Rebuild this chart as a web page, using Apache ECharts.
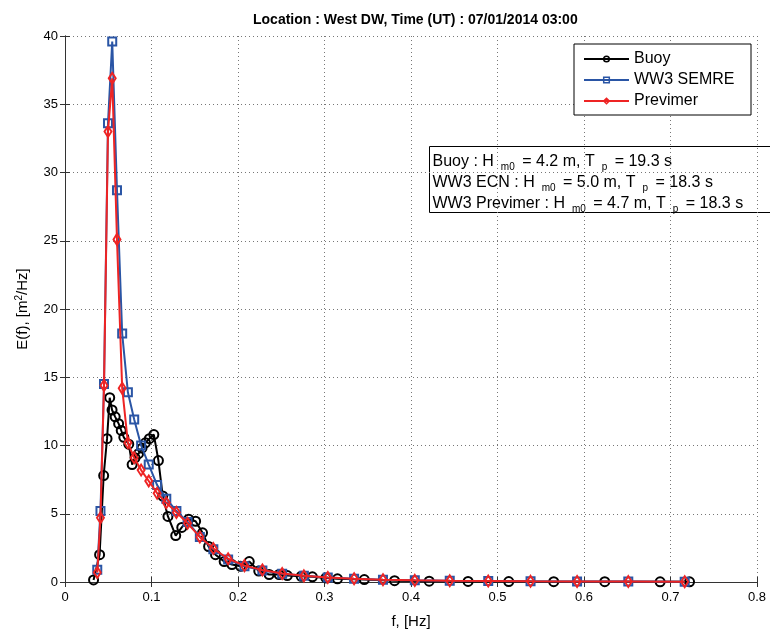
<!DOCTYPE html>
<html><head><meta charset="utf-8">
<script src="https://cdn.jsdelivr.net/npm/echarts@6/dist/echarts.min.js"></script>
<style>html,body{margin:0;padding:0;background:#fff;}#c{width:770px;height:639px;}</style>
</head><body><div id="c"></div>
<script>
// WW3 spectral frequencies (Hz)
const ww3Freq = [0.0373,0.0410,0.0451,0.0497,0.0546,0.0601,0.0661,0.0727,0.0800,0.0880,
  0.0968,0.1065,0.1171,0.1288,0.1417,0.1559,0.1715,0.1886,0.2075,0.2282,
  0.2511,0.2762,0.3038,0.3342,0.3676,0.4044,0.4448,0.4893,0.5382,0.5920,0.6512,0.7164];
// WW3 SEMREV energy (m^2/Hz)
const ww3Energy = [0.9,5.2,14.5,33.6,39.6,28.7,18.2,13.9,11.9,10.0,
  8.6,7.1,6.1,5.2,4.4,3.3,2.4,1.65,1.15,0.85,
  0.6,0.45,0.33,0.24,0.17,0.12,0.09,0.07,0.05,0.04,0.03,0.02];
// Previmer energy (m^2/Hz)
const previmerEnergy = [0.7,4.7,14.4,33.0,36.9,25.1,14.2,10.2,9.1,8.2,
  7.4,6.5,5.8,5.1,4.3,3.3,2.45,1.7,1.2,0.88,
  0.62,0.45,0.33,0.24,0.17,0.12,0.09,0.07,0.05,0.04,0.03,0.02];
// Buoy frequencies (Hz) and energy (m^2/Hz)
const buoyFreq = [0.033,0.040,0.0447,0.0486,0.0517,0.0544,0.058,0.062,0.065,0.068,
  0.0737,0.0776,0.081,0.085,0.089,0.093,0.0975,0.1027,0.108,0.113,
  0.119,0.128,0.135,0.143,0.151,0.159,0.166,0.174,0.184,0.193,
  0.203,0.213,0.224,0.236,0.2475,0.257,0.273,0.286,0.3016,0.315,
  0.346,0.381,0.421,0.466,0.513,0.565,0.624,0.688,0.722];
const buoyEnergy = [0.15,2.0,7.8,10.5,13.5,12.6,12.1,11.6,11.1,10.6,
  10.1,8.6,9.1,9.4,9.8,10.2,10.5,10.8,8.9,6.3,
  4.8,3.4,4.0,4.6,4.45,3.6,2.6,2.0,1.5,1.28,
  1.15,1.5,0.8,0.55,0.55,0.47,0.42,0.38,0.3,0.23,
  0.18,0.1,0.06,0.04,0.03,0.02,0.02,0.01,0.01];
const xTickLabels = ['0','0.1','0.2','0.3','0.4','0.5','0.6','0.7','0.8'];
const yTickLabels = ['0','5','10','15','20','25','30','35','40'];
const seriesNames = ['Buoy','WW3 SEMREV','Previmer'];
const infoLines = [
  ['Buoy : H','m0',' = 4.2 m, T','p',' = 19.3 s'],
  ['WW3 ECN : H','m0',' = 5.0 m, T','p',' = 18.3 s'],
  ['WW3 Previmer : H','m0',' = 4.7 m, T','p',' = 18.3 s']
];

const FONT = "'Liberation Sans', Arial, Helvetica, sans-serif";
const zip = (xs, ys) => xs.map((x, i) => [x, ys[i]]);
const colors = ['#000000', '#2a55a5', '#ee2424'];
const symbols = ['circle', 'rect', 'diamond'];
const symSizes = [9, 8, [7, 11]];
const datasets = [zip(buoyFreq, buoyEnergy), zip(ww3Freq, ww3Energy), zip(ww3Freq, previmerEnergy)];

const gridLine = { show: true, lineStyle: { color: '#777', width: 1, type: [1, 3] } };
const axisLineStyle = { show: true, lineStyle: { color: '#333', width: 1 } };
const tick = { show: true, inside: true, length: 5, lineStyle: { color: '#333' } };

const infoText = infoLines.map(l =>
  '{n|' + l[0] + '}{s|' + l[1] + '}{n|' + l[2] + '}{s|' + l[3] + '}{n|' + l[4] + '}'
).join('\n');

const chart = echarts.init(document.getElementById('c'), null, { renderer: 'canvas' });
chart.setOption({
  animation: false,
  backgroundColor: '#fff',
  title: {
    text: 'Location : West DW, Time (UT) : 07/01/2014 03:00',
    left: 248, top: 8,
    textStyle: { fontFamily: FONT, fontWeight: 'bold', fontSize: 14, color: '#000' }
  },
  grid: { left: 65, right: 13, top: 36, bottom: 57, containLabel: false, outerBoundsMode: 'none' },
  legend: {
    orient: 'vertical', left: 574, top: 44,
    data: seriesNames,
    itemWidth: 45, itemHeight: 7, itemGap: 3,
    padding: [6, 10, 5, 9],
    backgroundColor: '#fff', borderColor: '#000', borderWidth: 1, borderRadius: 0,
    itemStyle: { borderWidth: 1.5 },
    textStyle: { fontFamily: FONT, fontSize: 16, color: '#000', width: 107, height: 18, lineHeight: 18,
      overflow: 'truncate', ellipsis: '' }
  },
  xAxis: [{
    type: 'value', min: 0, max: 0.8, interval: 0.1, position: 'bottom',
    name: 'f, [Hz]', nameLocation: 'middle', nameGap: 32,
    nameTextStyle: { fontFamily: FONT, fontSize: 15, color: '#000' },
    axisLine: axisLineStyle, axisTick: tick, splitLine: gridLine,
    axisLabel: { fontFamily: FONT, fontSize: 13, color: '#000', margin: 9,
      formatter: (v) => xTickLabels[Math.round(v * 10)] }
  }, {
    type: 'value', min: 0, max: 0.8, interval: 0.1, position: 'top',
    axisLine: axisLineStyle, axisTick: tick, splitLine: { show: false }, axisLabel: { show: false }
  }],
  yAxis: [{
    type: 'value', min: 0, max: 40, interval: 5, position: 'left',
    name: '{a|E(f), [m}{sup|2}{a|/Hz]}', nameLocation: 'middle', nameGap: 33, nameRotate: 90,
    nameTextStyle: { fontFamily: FONT, fontSize: 15, color: '#000',
      rich: { a: { fontFamily: FONT, fontSize: 15, color: '#000' },
              sup: { fontFamily: FONT, fontSize: 10, color: '#000', verticalAlign: 'top', lineHeight: 18 } } },
    axisLine: axisLineStyle, axisTick: tick, splitLine: gridLine,
    axisLabel: { fontFamily: FONT, fontSize: 13, color: '#000', margin: 7,
      formatter: (v) => yTickLabels[Math.round(v / 5)] }
  }, {
    type: 'value', min: 0, max: 40, interval: 5, position: 'right',
    axisLine: axisLineStyle, axisTick: tick, splitLine: { show: false }, axisLabel: { show: false }
  }],
  series: seriesNames.map((name, i) => ({
    name, type: 'line', xAxisIndex: 0, yAxisIndex: 0,
    data: datasets[i],
    symbol: symbols[i], symbolSize: symSizes[i], showSymbol: true,
    lineStyle: { color: colors[i], width: 2 },
    itemStyle: { color: 'rgba(255,255,255,0)', borderColor: colors[i], borderWidth: 2 },
    emphasis: { disabled: true },
    z: 2 + i
  })),
  graphic: [{
    type: 'group', left: 429, top: 146, z: 100,
    children: [{
      type: 'rect', shape: { x: 0, y: 0, width: 360, height: 66 },
      style: { fill: '#fff', stroke: '#000', lineWidth: 1 }
    }, {
      type: 'text', x: 3, y: 5,
      style: {
        text: infoText,
        rich: {
          n: { fontFamily: FONT, fontSize: 16, color: '#000', lineHeight: 21 },
          s: { fontFamily: FONT, fontSize: 10, color: '#000', lineHeight: 4, verticalAlign: 'bottom', padding: [0, 3, 0, 7] }
        }
      }
    }]
  }]
});
</script>
</body></html>
